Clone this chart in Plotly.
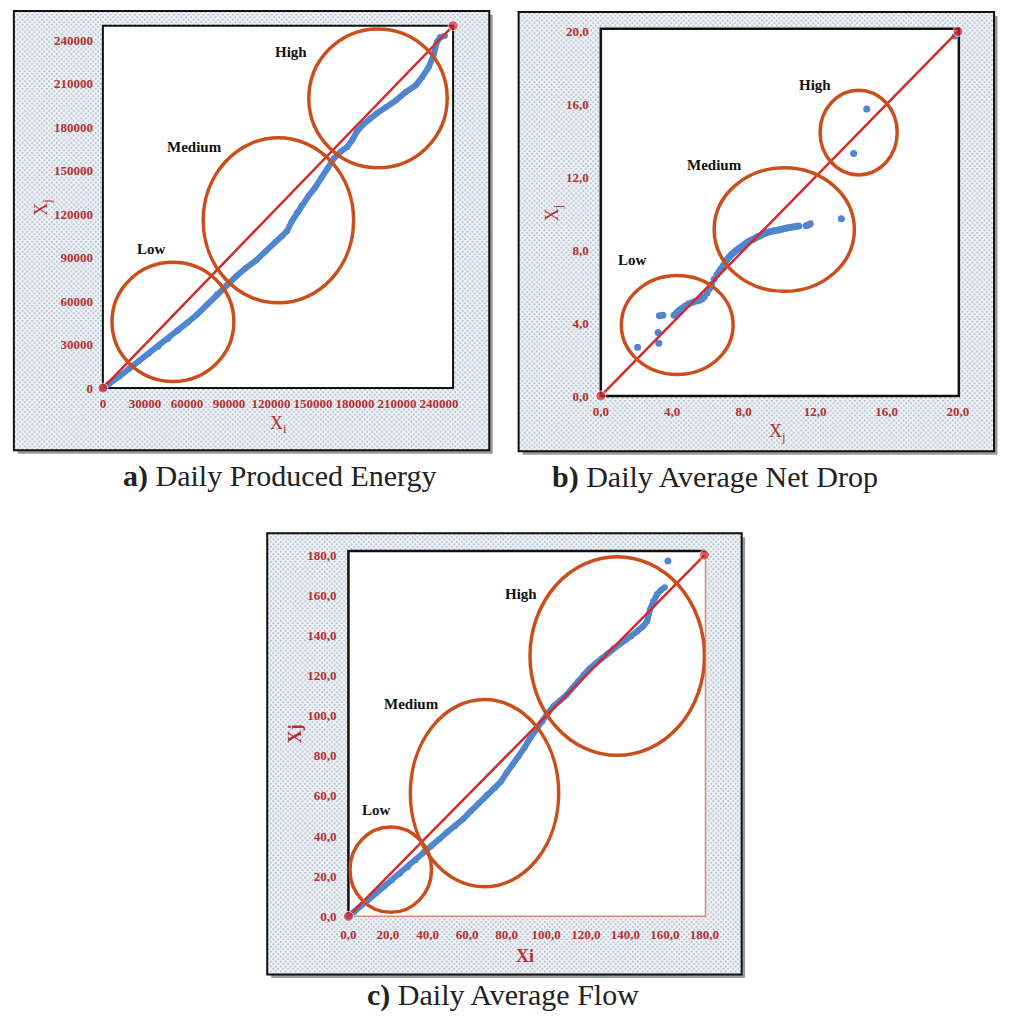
import base64
import plotly.graph_objects as go

# ---------------- data ----------------
# a) Daily Produced Energy (Q-Q curve, Xi vs Xj)
energy_xi = [0, 4650, 11630, 18600, 25580, 32560, 39530, 46510, 53490, 60470, 67440,
             74420, 81400, 88370, 95350, 102300, 109300, 116300, 123300, 127900, 131400,
             134900, 138400, 141900, 146500, 151200, 155800, 160500, 165100, 169800,
             174400, 177900, 181400, 186000, 190700, 195300, 202300, 209300, 216300,
             223300, 227900, 232600, 236000, 238400, 240700, 244200]
energy_xj = [0, 2970, 8000, 13270, 18530, 23560, 28590, 33850, 39570, 45290, 51000,
             57870, 64730, 71130, 77310, 83030, 88060, 94460, 100900, 104800, 108200,
             115100, 120800, 126000, 132200, 137900, 144800, 151600, 158700, 163200,
             166400, 171000, 177000, 182000, 186000, 189400, 194000, 198500, 204300,
             208800, 214500, 221400, 229400, 238600, 242000, 243100]
energy_ticks = [0, 30000, 60000, 90000, 120000, 150000, 180000, 210000, 240000]
energy_diag = [0, 250000]

# b) Daily Average Net Drop
drop_xi = [2.06, 3.21, 3.25, 3.28, 3.47, 4.10, 4.25, 4.40, 4.53, 4.70, 4.90, 5.08, 5.26,
           5.40, 5.53, 5.67, 5.80, 5.95, 6.08, 6.20, 6.35, 6.50, 6.62, 6.72, 6.85, 6.97,
           7.08, 7.20, 7.32, 7.45, 7.58, 7.70, 7.81, 7.95, 8.08, 8.18, 8.30, 8.42, 8.54,
           8.66, 8.78, 8.90, 9.02, 9.15, 9.27, 9.40, 9.52, 9.64, 9.78, 9.90, 10.00,
           10.12, 10.25, 10.36, 10.48, 10.60, 10.73, 10.85, 10.97, 11.09, 11.50, 11.62,
           11.73, 13.47, 14.16, 14.89, 19.85]
drop_xj = [2.68, 3.49, 2.90, 4.40, 4.43, 4.43, 4.58, 4.70, 4.80, 4.93, 5.05, 5.12, 5.19,
           5.22, 5.25, 5.33, 5.45, 5.65, 5.88, 6.12, 6.40, 6.65, 6.82, 6.97, 7.15, 7.33,
           7.50, 7.64, 7.76, 7.87, 7.98, 8.06, 8.14, 8.24, 8.34, 8.42, 8.49, 8.55, 8.60,
           8.67, 8.73, 8.78, 8.84, 8.90, 8.96, 9.00, 9.03, 9.05, 9.08, 9.10, 9.12,
           9.15, 9.18, 9.20, 9.23, 9.25, 9.27, 9.29, 9.31, 9.32, 9.34, 9.38,
           9.45, 9.72, 13.30, 15.75, 19.75]
drop_ticks = [0, 4, 8, 12, 16, 20]
drop_ticktext = ["0,0", "4,0", "8,0", "12,0", "16,0", "20,0"]
drop_diag = [0, 20]

# c) Daily Average Flow
flow_xi = [0, 3, 6, 10, 14, 18, 22, 26, 30, 34, 38, 42, 46, 50, 54, 58, 62, 66, 70, 74,
           77, 80, 83, 86, 89, 92, 95, 98, 101, 104, 107, 110, 113, 116, 119, 122, 125,
           128, 131, 134, 137, 140, 143, 146, 149, 151, 152.5, 154, 156, 158, 160]
flow_xj = [0, 2.2, 4.9, 8.2, 11.5, 14.8, 18, 21.2, 24.5, 28, 32, 35, 38.5, 42, 45, 48.5,
           52.5, 56.5, 60.5, 63.8, 67, 71.5, 75.5, 79.5, 84, 89, 93.5, 97, 101.5, 105,
           107.5, 110, 113.5, 117, 120.5, 123.5, 126, 128.5, 131, 133.5, 135.5, 137.5,
           139.5, 142, 144.5, 147, 153, 157, 160.5, 162.5, 164]
flow_outlier_xi = [161.5]
flow_outlier_xj = [177]
flow_ticks = [0, 20, 40, 60, 80, 100, 120, 140, 160, 180]
flow_ticktext = ["0,0", "20,0", "40,0", "60,0", "80,0", "100,0", "120,0", "140,0", "160,0", "180,0"]
flow_diag = [0, 180]

# ---------------- styles ----------------
W, H = 1010, 1030
BLUE = "#4f86cf"
RED = "#d42a2a"
RING = "#c9501c"
TICK = "#b3312e"
SERIF = "Liberation Serif"


def px(x):
    return x / W


def py(y):
    return 1 - y / H


def pattern_uri(w, h):
    svg = (
        f"<svg xmlns='http://www.w3.org/2000/svg' width='{w}' height='{h}' viewBox='0 0 {w} {h}'>"
        "<defs><pattern id='p' width='5' height='5' patternUnits='userSpaceOnUse'>"
        "<rect width='5' height='5' fill='#f0f3f7'/>"
        "<circle cx='1.25' cy='1.25' r='1.0' fill='#adbbcd'/>"
        "<circle cx='3.75' cy='3.75' r='1.0' fill='#adbbcd'/>"
        "</pattern></defs>"
        f"<rect width='{w}' height='{h}' fill='url(#p)'/></svg>"
    )
    return "data:image/svg+xml;base64," + base64.b64encode(svg.encode()).decode()


fig = go.Figure()


def add_curve(xs, ys, xa, ya, line=True, size=6):
    fig.add_trace(go.Scatter(
        x=xs, y=ys, xaxis=xa, yaxis=ya,
        mode="lines+markers" if line else "markers",
        line=dict(color=BLUE, width=6), marker=dict(color=BLUE, size=size),
        cliponaxis=False, hoverinfo="skip", showlegend=False))


def add_diag(d, xa, ya):
    fig.add_trace(go.Scatter(
        x=d, y=d, xaxis=xa, yaxis=ya, mode="lines+markers",
        line=dict(color=RED, width=2.5), marker=dict(color=RED, size=[10, 10]),
        cliponaxis=False, hoverinfo="skip", showlegend=False))


# a
add_curve(energy_xi, energy_xj, "x", "y")
add_diag(energy_diag, "x", "y")
# b
add_curve(drop_xi, drop_xj, "x2", "y2", line=False, size=7)
add_diag(drop_diag, "x2", "y2")
# c
add_curve(flow_xi, flow_xj, "x3", "y3")
add_curve(flow_outlier_xi, flow_outlier_xj, "x3", "y3", line=False, size=7)
add_diag(flow_diag, "x3", "y3")

tickfont = dict(family=SERIF, size=13, color=TICK, weight="bold")


def ax(domain, rng, tv, tt, anchor, standoff):
    return dict(domain=domain, range=rng, tickvals=tv, ticktext=tt, anchor=anchor,
                showgrid=False, zeroline=False, showline=False, ticks="",
                tickfont=tickfont, ticklabelstandoff=standoff, fixedrange=True)


energy_tt = [str(v) for v in energy_ticks]
layout = dict(
    width=W, height=H, autosize=False,
    margin=dict(l=0, r=0, t=0, b=0),
    paper_bgcolor="white", plot_bgcolor="white",
    xaxis=ax([px(97), px(455)], [0, 250000], energy_ticks, energy_tt, "y", 6),
    yaxis=ax([py(388), py(21)], [0, 250000], energy_ticks, energy_tt, "x", 9),
    xaxis2=ax([px(606), px(972)], [0, 20.05], drop_ticks, drop_ticktext, "y2", 6),
    yaxis2=ax([py(396), py(24)], [0, 20.15], drop_ticks, drop_ticktext, "x2", 11),
    xaxis3=ax([px(348), px(713)], [0, 180.5], flow_ticks, flow_ticktext, "y3", 9),
    yaxis3=ax([py(923), py(553)], [0, 182], flow_ticks, flow_ticktext, "x3", 11),
)
fig.update_layout(**layout)

# outer dotted frames
frames = [(6, 6, 492, 451), (522, 7, 1008, 452), (265, 535, 750, 982)]
images = []
shapes = []
for (x0, y0, x1, y1) in frames:
    images.append(dict(source=pattern_uri(x1 - x0, y1 - y0), xref="paper", yref="paper",
                       x=px(x0), y=py(y0), sizex=px(x1) - px(x0), sizey=py(y0) - py(y1),
                       xanchor="left", yanchor="top", sizing="stretch", layer="below"))
    # shadow
    shapes.append(dict(type="line", xref="paper", yref="paper", x0=px(x1 + 2), x1=px(x1 + 2),
                       y0=py(y0 + 4), y1=py(y1 + 3), line=dict(color="#9a9a9a", width=3), layer="below"))
    shapes.append(dict(type="line", xref="paper", yref="paper", x0=px(x0 + 4), x1=px(x1 + 3),
                       y0=py(y1 + 2), y1=py(y1 + 2), line=dict(color="#9a9a9a", width=3), layer="below"))
    shapes.append(dict(type="rect", xref="paper", yref="paper", x0=px(x0), x1=px(x1),
                       y0=py(y1), y1=py(y0), line=dict(color="#111111", width=2), layer="below"))

# plot areas
shapes.append(dict(type="rect", xref="x domain", yref="y domain", x0=0, x1=1, y0=0, y1=1,
                   fillcolor="white", line=dict(color="#111111", width=2), layer="below"))
shapes.append(dict(type="rect", xref="x2 domain", yref="y2 domain", x0=0, x1=1, y0=0, y1=1,
                   fillcolor="white", line=dict(color="#111111", width=2.5), layer="below"))
shapes.append(dict(type="rect", xref="x3 domain", yref="y3 domain", x0=0, x1=1, y0=0, y1=1,
                   fillcolor="white", line=dict(color="#e08a6a", width=1.5), layer="below"))
shapes.append(dict(type="path", xref="x3 domain", yref="y3 domain",
                   path="M 0 0 L 0 1 L 1 1", line=dict(color="#111111", width=2.5), layer="below"))

# ellipses
rings = [
    ("x", "y", 6500, 93500, 4600, 86800),
    ("x", "y", 71600, 179000, 58800, 172700),
    ("x", "y", 147000, 245800, 152000, 247800),
    ("x2", "y2", 1.15, 7.41, 1.18, 6.61),
    ("x2", "y2", 6.35, 14.2, 5.74, 12.52),
    ("x2", "y2", 12.28, 16.6, 12.13, 16.78),
    ("x3", "y3", 0.8, 42, 2, 44.5),
    ("x3", "y3", 31.3, 106.3, 14.7, 108),
    ("x3", "y3", 91.8, 180, 80.2, 179.2),
]
for (xr, yr, x0, x1, y0, y1) in rings:
    shapes.append(dict(type="circle", xref=xr, yref=yr, x0=x0, x1=x1, y0=y0, y1=y1,
                       line=dict(color=RING, width=3.5), layer="above"))

fig.update_layout(images=images, shapes=shapes)

# annotations
lab_font = dict(family=SERIF, size=15, color="#111111", weight="bold")
ann = []
for (xr, yr, x, y, t) in [
    ("x", "y", 34900, 95900, "Low"), ("x", "y", 65600, 166500, "Medium"), ("x", "y", 134400, 231900, "High"),
    ("x2", "y2", 1.75, 7.47, "Low"), ("x2", "y2", 6.35, 12.67, "Medium"), ("x2", "y2", 11.97, 17.07, "High"),
    ("x3", "y3", 14, 53.2, "Low"), ("x3", "y3", 32.1, 105.9, "Medium"), ("x3", "y3", 87, 160.4, "High"),
]:
    ann.append(dict(xref=xr, yref=yr, x=x, y=y, text=t, showarrow=False, font=lab_font,
                    xanchor="center", yanchor="middle"))

title_font = dict(family=SERIF, size=18, color=TICK)
for (x, y, t, ang) in [
    (277, 425, "X<sub>i</sub>", 0), (35, 205, "X<sub>j</sub>", -90),
    (787, 433, "X<sub>j</sub>", 0), (558, 210, "X<sub>j</sub>", -90),
    (529, 963, "<b>Xi</b>", 0), (293, 738, "<b>Xj</b>", -90),
]:
    ann.append(dict(xref="paper", yref="paper", x=px(x), y=py(y), text=t, showarrow=False,
                    font=title_font, textangle=ang, xanchor="center", yanchor="middle"))

cap_font = dict(family=SERIF, size=30, color="#222222")
for (x, y, t) in [
    (278, 477, "<b>a)</b> Daily Produced Energy"),
    (723, 478, "<b>b)</b> Daily Average Net Drop"),
    (506, 1003, "<b>c)</b> Daily Average Flow"),
]:
    ann.append(dict(xref="paper", yref="paper", x=px(x), y=py(y), text=t, showarrow=False,
                    font=cap_font, xanchor="center", yanchor="middle"))
fig.update_layout(annotations=ann)

fig.write_html("out.html", config={"displayModeBar": False},
               post_script="document.body.style.margin='0';document.body.style.overflow='hidden';")
